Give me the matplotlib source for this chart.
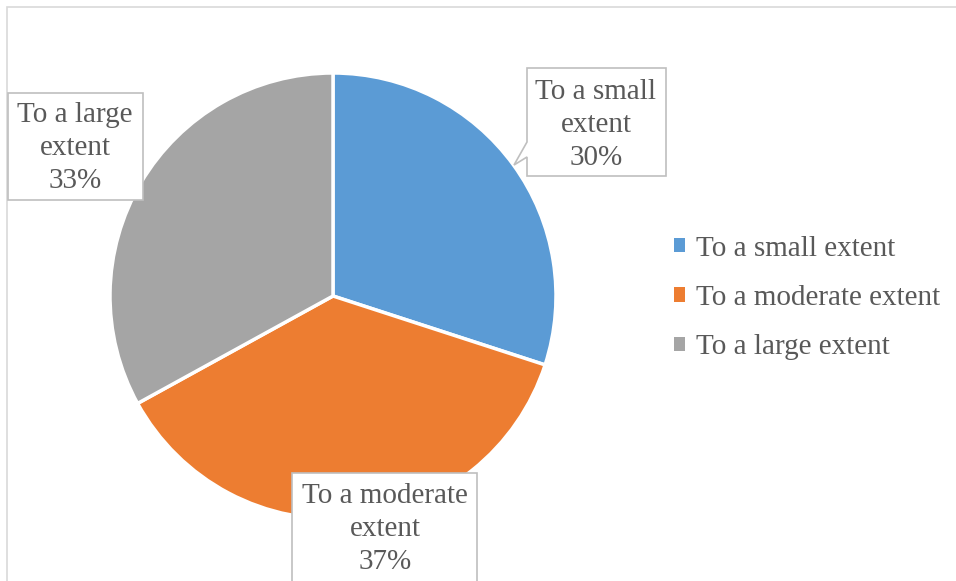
import matplotlib
matplotlib.use("Agg")
import matplotlib.pyplot as plt
from matplotlib.patches import Polygon, Rectangle

categories = ["To a small extent", "To a moderate extent", "To a large extent"]
shares = [30, 37, 33]
colors = ["#5B9BD5", "#ED7D31", "#A5A5A5"]
callout_texts = ["To a small\nextent", "To a moderate\nextent", "To a large\nextent"]

W, H = 956, 581
fig = plt.figure(figsize=(W / 100, H / 100), dpi=100)
ax = fig.add_axes([0, 0, 1, 1])

FONT = "Liberation Serif"
TXT = "#595959"
FS = 21

def py(y):
    # convert a top-down pixel row to axis y
    return H - y

# chart area border
ax.add_patch(Rectangle((7, py(H + 10)), W + 10, H + 3, fill=False,
                       edgecolor="#D9D9D9", linewidth=1.2))

wedges, _ = ax.pie(shares, colors=colors, startangle=90, counterclock=False,
                   center=(333, py(296)), radius=223, frame=True,
                   wedgeprops=dict(edgecolor="white", linewidth=2.5))
ax.set_xlim(0, W)
ax.set_ylim(0, H)
ax.set_aspect("equal")
ax.axis("off")

# callout boxes: (left, top, right, bottom) in pixel rows, text centre
boxes = [
    dict(box=(527, 68, 666, 176), center=(596, 125),
         pointer=((527, 142), (514, 165), (527, 157))),
    dict(box=(292, 473, 477, 600), center=(385, 529), pointer=None),
    dict(box=(8, 93, 143, 200), center=(75, 148), pointer=None),
]
for i, b in enumerate(boxes):
    l, t, r, btm = b["box"]
    if b["pointer"] is None:
        pts = [(l, t), (r, t), (r, btm), (l, btm)]
    else:
        p1, tip, p2 = b["pointer"]
        pts = [(l, t), (r, t), (r, btm), (l, btm), p2, tip, p1]
    ax.add_patch(Polygon([(x, py(y)) for x, y in pts], closed=True,
                         facecolor="white", edgecolor="#BFBFBF",
                         linewidth=1.2, zorder=5))
    cx, cy = b["center"]
    ax.text(cx, py(cy), f"{callout_texts[i]}\n{shares[i]}%", ha="center",
            va="center", fontsize=FS, family=FONT, color=TXT,
            linespacing=1.35, zorder=6)

# legend
leg = ax.legend(wedges, categories, loc="upper left",
                bbox_to_anchor=(659 / W, 1 - 221 / H), frameon=False,
                prop=dict(family=FONT, size=FS), labelcolor=TXT,
                handlelength=0.38, handleheight=0.38, handletextpad=0.38,
                labelspacing=0.8, borderpad=0)
for h in leg.legend_handles:
    h.set_edgecolor("none")

fig.savefig("out.png", dpi=100)
